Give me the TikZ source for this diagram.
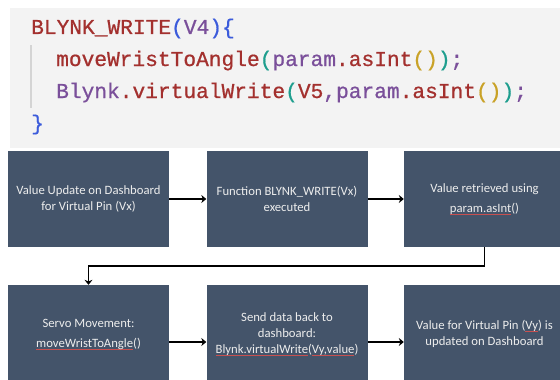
\documentclass[tikz,border=0pt]{standalone}
\usepackage{fontspec}
\setmainfont{Carlito}
\newfontfamily\codefont[FakeBold=0.8]{Liberation Mono}
\usetikzlibrary{arrows.meta}
\definecolor{codebg}{HTML}{F3F3F3}
\definecolor{boxbg}{HTML}{44546A}
\definecolor{boxtxt}{HTML}{EDEDED}
\definecolor{cred}{HTML}{A3302E}
\definecolor{cblue}{HTML}{3B5BDB}
\definecolor{cpurp}{HTML}{7A4F9A}
\definecolor{cteal}{HTML}{1E9E8E}
\definecolor{cgold}{HTML}{C9A227}
\definecolor{guide}{HTML}{D4D4D4}
\definecolor{sqred}{HTML}{C85050}
\newcommand\sqg[1]{\setbox0\hbox{#1}\rlap{\color{sqred}\rule[-2.2pt]{\wd0}{0.4pt}}\box0}
\tikzset{
  flowbox/.style={draw=none, fill=boxbg, text=boxtxt, align=center,
    font=\fontsize{12.7}{16}\selectfont, inner sep=0pt},
  toprow/.style={flowbox, minimum width=161pt, minimum height=96pt},
  botrow/.style={flowbox, minimum width=161pt, minimum height=98pt},
  codeline/.style={anchor=base west, inner sep=0pt, font=\codefont\fontsize{21.2}{24}\selectfont},
  arr/.style={line width=1.5pt, -{Stealth[length=5pt,width=8pt]}}
}
\begin{document}
\begin{tikzpicture}[x=1pt,y=-1pt]
\path[use as bounding box] (0,0) rectangle (560,380);
\clip (0,0) rectangle (560,380);
% code block
\fill[codebg] (10,8) rectangle (560,148);
\draw[guide, line width=1.3pt] (31,45) -- (31,108);
\node[codeline] (l1) at (31,34) {\textcolor{cred}{BLYNK\_WRITE}\textcolor{cblue}{(}\textcolor{cpurp}{V4}\textcolor{cblue}{)\{}};
\node[codeline] (l2) at (56,66) {\textcolor{cred}{moveWristToAngle}\textcolor{cteal}{(}\textcolor{cpurp}{param}\textcolor{cred}{.asInt}\textcolor{cgold}{()}\textcolor{cteal}{)}\textcolor{cpurp}{;}};
\node[codeline] (l3) at (56,98) {\textcolor{cpurp}{Blynk}\textcolor{cred}{.virtualWrite}\textcolor{cteal}{(}\textcolor{cred}{V5}\textcolor{cpurp}{,param}\textcolor{cred}{.asInt}\textcolor{cgold}{()}\textcolor{cteal}{)}\textcolor{cpurp}{;}};
\node[codeline] (l4) at (31,130) {\textcolor{cblue}{\}}};
% flow boxes
\node[toprow] (b1) at (88.5,199) {Value Update on Dashboard\\for Virtual Pin (Vx)};
\node[toprow] (b2) at (287,199) {Function BLYNK\_WRITE(Vx)\\executed};
\node[toprow] (b3) at (484.5,199) {Value retrieved using\\[4pt]\sqg{param.asInt}()};
\node[botrow] (b4) at (88.5,334) {Servo Movement:\\[4pt]\sqg{moveWristToAngle}()};
\node[botrow] (b5) at (287,334) {\fontsize{12.7}{15}\selectfont Send data back to\\dashboard:\\\sqg{Blynk.virtualWrite}(\sqg{Vy,value})};
\node[botrow] (b6) at (484.5,334) {Value for Virtual Pin (\sqg{Vy}) is\\updated on Dashboard};
% connectors
\draw[arr] (b1.east) -- (b2.west);
\draw[arr] (b2.east) -- (b3.west);
\draw[arr] (b3.south) -- ++(0,19) -| (b4.north);
\draw[arr] ([yshift=-8pt]b4.east) -- ([yshift=-8pt]b5.west);
\draw[arr] ([yshift=-8pt]b5.east) -- ([yshift=-8pt]b6.west);
\end{tikzpicture}
\end{document}
